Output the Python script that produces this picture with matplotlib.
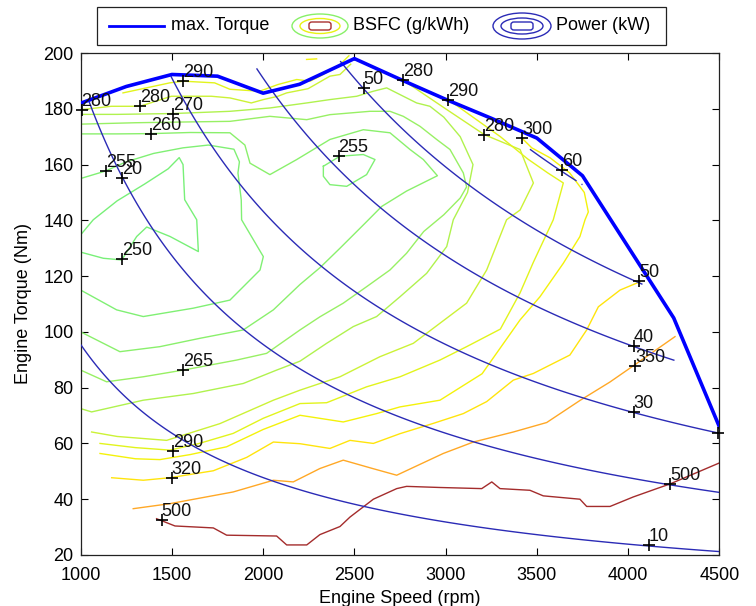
import numpy as np
import matplotlib
matplotlib.use("Agg")
import matplotlib.pyplot as plt
from matplotlib.patches import Ellipse, FancyBboxPatch, Rectangle
from matplotlib.lines import Line2D

plt.rcParams['font.family'] = ['Liberation Sans', 'DejaVu Sans']

# ---------------- data ----------------
maxtq_speed = [1000, 1250, 1500, 1750, 2000, 2200, 2500, 2750, 3000, 3250, 3500, 3750, 4000, 4250, 4500]
maxtq_torque = [182, 188, 192.3, 191.7, 185.6, 188.8, 198, 190.6, 183.4, 176.6, 169.5, 156, 130.5, 105, 66]

# upper limit of the power map domain (speed, torque)
pmap_speed = [1000, 1500, 1750, 2000, 2200, 2500, 2750, 3000, 3250, 3500, 3750, 4000, 4250, 4500]
pmap_tmax = [182, 192, 192, 195, 196, 198, 191, 184, 170, 165, 153, 130, 90.5, 66]
power_levels = [10, 20, 30, 40, 50, 60]

bsfc_levels = [250, 255, 260, 265, 270, 280, 290, 300, 320, 350, 500]
bsfc_colors = ['#78f078', '#80f074', '#8af06c', '#98f064', '#b0f24e', '#ccf236',
               '#e2f41c', '#f4f20a', '#ffe40c', '#ffa826', '#a42c2c']

bsfc_250 = [(1000,128.6),(1124,126.4),(1225,125.8),(1307,134.2),(1362,137.6),(1490,134.2),
            (1645,128.8),(1636,140.2),(1570,147.4),(1561,160),(1540,162.5),(1480,158.5),
            (1350,153),(1200,147),(1069,140.2),(1000,134.8)]
bsfc_255 = [(1000,155),(1137,157.7),(1250,161),(1400,164),(1561,166),(1700,167),(1840,165.5),
            (1870,161),(1862,157),(1880,147.4),(1882,140.2),(2001,127),(1983,122.2),(1818,111.4),
            (1617,108.5),(1343,105.5),(1197,107.9),(1000,115)]
bsfc_255b = [(2330,159.4),(2421,163),(2549,163.6),(2613,161.8),(2567,156.4),(2458,152.2),
             (2366,152.8),(2330,155.8),(2330,159.4)]
bsfc_260 = [(1000,100),(1215,92.9),(1434,94.7),(1654,97.7),(1891,100.7),(2056,107.9),
            (2202,117),(2311,123),(2421,130),(2559,139),(2650,145),(2786,150.5),(2955,156),
            (2878,161.8),(2805,165.4),(2695,171.4),(2549,172.5),(2366,169),(2184,161.8),
            (2037,156.4),(1928,160.5),(1900,167),(1818,171.4),(1600,171.5),(1384,171.1),
            (1200,171),(1000,171)]
bsfc_265 = [(1000,86.3),(1142,82.1),(1343,83.9),(1562,86.3),(1855,89.9),(2019,92.3),
            (2202,100.7),(2311,105.4),(2439,110.3),(2567,116.2),(2695,122.2),(2786,128.2),
            (2880,136),(2990,142),(3080,148),(3115,152),(3097,157),(3024,165.4),(2951,169),
            (2860,173.7),(2768,177.3),(2695,179.1),(2585,179.1),(2366,177.9),(2239,176.1),
            (2037,177.3),(1818,175.5),(1600,175.3),(1300,175),(1000,174.5)]
bsfc_270 = [(1000,72.5),(1060,71.3),(1343,75.5),(1617,77.9),(1891,81.5),(2074,86.3),
            (2202,89.5),(2348,95.9),(2494,101.9),(2622,105.5),(2750,112.6),(2896,121),
            (3006,130.6),(3042,140.2),(3120,150),(3150,160),(3080,170),(2990,177),(2914,180.9),
            (2841,182.1),(2768,184.5),(2677,187.5),(2604,186.3),(2513,184.5),(2366,183.3),
            (2239,182.1),(2037,180.3),(1818,179.1),(1508,178.3),(1200,178),(1000,178)]
bsfc_280 = [(1060,64.1),(1200,62.5),(1471,61.1),(1763,67.1),(2056,75.5),(2202,79.1),
            (2421,83.9),(2640,91.1),(2823,95.9),(2969,103.1),(3115,110.3),(3225,122.2),
            (3334,140.2),(3408,143.7),(3481,153.4),(3408,165.4),(3213,170.7),(3000,180),(2769,190.2)]
bsfc_280b = [(1005,179.7),(1168,180.9),(1325,180.9),(1497,184.5),(1716,184.5),(1818,183.9),
             (1935,182.1),(2001,183.3),(2081,184.5),(2129,185.7),(2246,187.2),(2366,191.7),
             (2421,192.3),(2480,196)]
bsfc_290 = [(1106,60),(1300,58.5),(1489,57.6),(1650,60),(1836,63.6),(2000,69),(2202,74.3),
            (2348,74.6),(2567,80.3),(2750,83.9),(2969,89.9),(3115,94.7),(3300,101),(3408,114),
            (3481,125),(3590,140.2),(3645,153.4),(3560,157),(3450,162),(3300,170),(3015,183.3)]
bsfc_290b = [(1232,185.7),(1488,189.3),(1563,189.9),(1734,189.3),(1818,187),(1981,186.3),
             (2081,188.7),(2184,190.5),(2257,189.9),(2330,192.3),(2421,195.9),(2470,199)]
bsfc_300 = [(1106,56.4),(1300,54.5),(1434,54.2),(1600,56),(1800,58.8),(2000,65),(2202,70.1),
            (2439,67.7),(2622,70.7),(2750,73.1),(2969,75.5),(3200,85),(3408,104.3),(3517,112.6),
            (3645,124.6),(3736,134.2),(3764,140.2),(3782,143),(3760,150),(3680,157),(3573,162.4),
            (3472,166),(3418,169.5)]
bsfc_300b = [(2238,197.7),(2293,197.9)]
bsfc_320 = [(1170,47.7),(1343,46.8),(1489,47.7),(1727,50.2),(1910,55),(2056,60.5),(2202,59.9),
            (2366,58.2),(2476,61.1),(2604,60),(2750,63.5),(2933,67.2),(3097,70.7),(3225,75),
            (3371,82.7),(3481,85.1),(3590,88.7),(3681,91.7),(3773,100.7),(3837,109),(3956,115),(4066,118)]
bsfc_350 = [(1288,36.6),(1489,38.4),(1836,42.6),(2056,46.8),(2165,46.2),(2311,51),(2439,54),
            (2600,51),(2732,48.6),(2987,56.4),(3152,60.5),(3371,64.1),(3554,67.5),(3736,75.4),
            (3900,82),(4028,87.8),(4257,98.3)]
bsfc_500 = [(1416,33),(1517,30.4),(1727,29.7),(1800,27.1),(2074,26.8),(2129,23.6),(2239,23.6),
            (2311,27.3),(2421,30.2),(2476,33.6),(2604,40),(2732,43.8),(2786,44.6),(2969,44.2),
            (3198,43.8),(3253,46.2),(3298,43.8),(3462,43.2),(3535,41.2),(3736,40),(3773,37.4),
            (3901,37.4),(4028,40.8),(4157,43.8),(4231,45.5),(4500,53)]

bsfc_lines = [(250, bsfc_250), (255, bsfc_255), (255, bsfc_255b), (260, bsfc_260),
              (265, bsfc_265), (270, bsfc_270), (280, bsfc_280), (280, bsfc_280b),
              (290, bsfc_290), (290, bsfc_290b), (300, bsfc_300), (300, bsfc_300b),
              (320, bsfc_320), (350, bsfc_350), (500, bsfc_500)]

# contour labels: (speed, torque, text)
bsfc_labels = [(1005, 179.7, '280'), (1325, 180.9, '280'), (1508, 178.3, '270'), (1563, 189.9, '290'),
               (1384, 171.1, '260'), (1137, 157.7, '255'), (1225, 126, '250'), (1559, 86.4, '265'),
               (1508, 57.3, '290'), (1499, 47.7, '320'), (1444, 32.4, '500'), (2413, 163.1, '255'),
               (2769, 190.2, '280'), (3015, 183.3, '290'), (3213, 170.7, '280'), (3418, 169.5, '300'),
               (4040, 87.7, '350'), (4231, 45.5, '500')]
power_labels = [(1225, 155.1, '20'), (2550, 187.5, '50'), (3637, 157.9, '60'), (4062, 118.1, '50'),
                (4030, 95, '40'), (4030, 71.1, '30'), (4112, 23.5, '10'), (4492, 63.9, '')]

# ---------------- figure ----------------
fig = plt.figure(figsize=(7.56, 6.06), dpi=100)
ax = fig.add_axes([0.1067, 0.0842, 0.8448, 0.8283])

col = dict(zip(bsfc_levels, bsfc_colors))
for lev, pts in bsfc_lines:
    a = np.array(pts)
    ax.plot(a[:, 0], a[:, 1], color=col[lev], lw=1.0, zorder=2)

# power map
ns = np.arange(1000, 4501, 10.0)
ts = np.arange(20, 200.1, 0.5)
N, T = np.meshgrid(ns, ts)
P = N * T * np.pi / 30.0 / 1000.0
lim = np.interp(N, pmap_speed, pmap_tmax)
P = np.where(T <= lim, P, np.nan)
ax.contour(N, T, P, levels=power_levels, colors='#2b2bb6', linewidths=1.0, zorder=3)

ax.plot(maxtq_speed, maxtq_torque, color='#0000ff', lw=2.6, zorder=4)

for x, y, s in bsfc_labels + power_labels:
    ax.plot(x, y, marker='+', color='black', ms=9, mew=1.2, zorder=6, clip_on=False)
    if s:
        ax.text(x, y, s, ha='left', va='bottom', fontsize=13, color='#111111', zorder=7)

ax.set_xlim(1000, 4500)
ax.set_ylim(20, 200)
ax.set_xticks(np.arange(1000, 4501, 500))
ax.set_yticks(np.arange(20, 201, 20))
ax.tick_params(axis='both', direction='in', length=5, width=0.8, top=True, right=True, labelsize=13)
ax.tick_params(axis='x', pad=9)
ax.tick_params(axis='y', pad=5)
for sp in ax.spines.values():
    sp.set_linewidth(0.9)
    sp.set_color('#222222')
ax.set_xlabel('Engine Speed (rpm)', fontsize=13, labelpad=4)
ax.set_ylabel('Engine Torque (Nm)', fontsize=13, labelpad=8)

# ---------------- legend (drawn in figure coordinates) ----------------
W, H = 756.0, 606.0
def fx(px): return px / W
def fy(py): return 1 - py / H
fig.patches.append(Rectangle((fx(97), fy(45)), fx(666) - fx(97), fy(7) - fy(45), transform=fig.transFigure,
                             fill=True, facecolor='white', edgecolor='#222222', lw=0.9))
fig.lines.append(Line2D([fx(109), fx(164)], [fy(26), fy(26)], transform=fig.transFigure, color='#0000ff', lw=2))
fig.text(fx(171), fy(26), 'max. Torque', fontsize=13, va='center', ha='left')
for w, h, c in [(56, 24, '#88f068'), (40, 15, '#e8f214')]:
    fig.patches.append(Ellipse((fx(320), fy(26)), w / W, h / H, transform=fig.transFigure, fill=False, edgecolor=c, lw=1))
fig.patches.append(FancyBboxPatch((fx(309), fy(30)), 22 / W, 8 / H, boxstyle='round,pad=0,rounding_size=0.004',
                                  transform=fig.transFigure, fill=False, edgecolor='#a83030', lw=1))
fig.text(fx(353), fy(26), 'BSFC (g/kWh)', fontsize=13, va='center', ha='left')
for w, h in [(58, 26), (42, 16)]:
    fig.patches.append(Ellipse((fx(522), fy(26)), w / W, h / H, transform=fig.transFigure, fill=False, edgecolor='#2b2bb6', lw=1))
fig.patches.append(FancyBboxPatch((fx(511), fy(30)), 22 / W, 8 / H, boxstyle='round,pad=0,rounding_size=0.004',
                                  transform=fig.transFigure, fill=False, edgecolor='#2b2bb6', lw=1))
fig.text(fx(556), fy(26), 'Power (kW)', fontsize=13, va='center', ha='left')

fig.savefig('out.png', dpi=100, facecolor='white')
